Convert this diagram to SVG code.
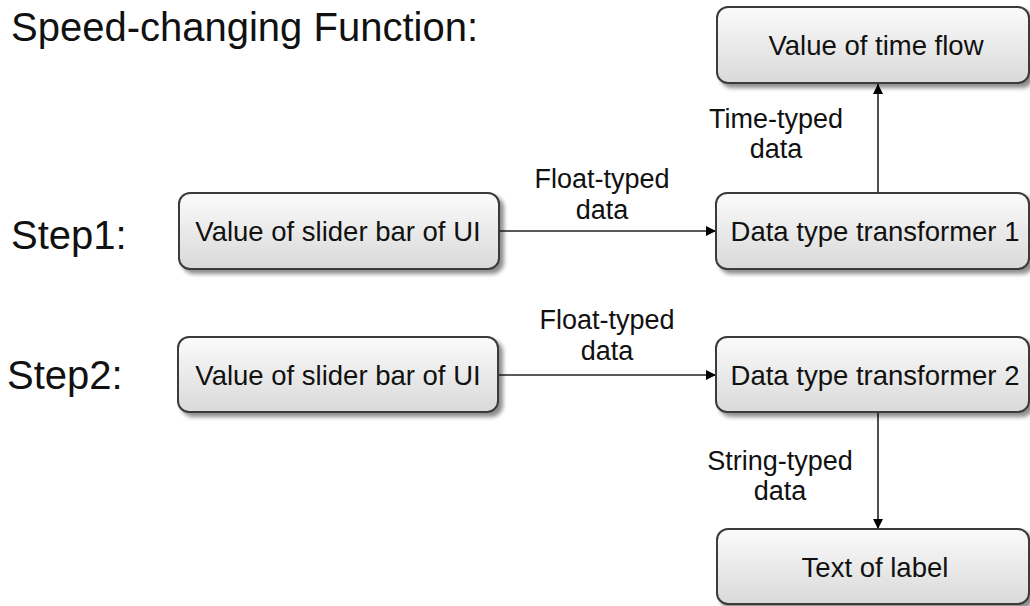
<svg xmlns="http://www.w3.org/2000/svg" width="1030" height="606" viewBox="0 0 1030 606">
  <defs>
    <linearGradient id="boxfill" x1="0" y1="0" x2="0" y2="1">
      <stop offset="0" stop-color="#fbfbfb"/>
      <stop offset="1" stop-color="#d9d9d9"/>
    </linearGradient>
    <filter id="shadow" x="-5%" y="-10%" width="115%" height="130%">
      <feGaussianBlur in="SourceAlpha" stdDeviation="2"/>
      <feOffset dx="4" dy="4" result="b"/>
      <feComponentTransfer><feFuncA type="linear" slope="0.45"/></feComponentTransfer>
      <feMerge><feMergeNode/><feMergeNode in="SourceGraphic"/></feMerge>
    </filter>
    <marker id="arrow" viewBox="0 0 10 10" refX="10" refY="5" markerWidth="10" markerHeight="10" markerUnits="userSpaceOnUse" orient="auto">
      <path d="M0,0 L10,5 L0,10 Z" fill="#000"/>
    </marker>
  </defs>
  <style>
    .box { fill: url(#boxfill); stroke: #3a3a3a; stroke-width: 2; filter: url(#shadow); }
    .btxt { font-family: "Liberation Sans", Arial, sans-serif; font-size: 27.5px; fill: #111; text-anchor: middle; }
    .lbl { font-family: "Liberation Sans", Arial, sans-serif; font-size: 27px; fill: #111; text-anchor: middle; }
    .big { font-family: "Liberation Sans", Arial, sans-serif; font-size: 40px; fill: #111; }
    .conn { stroke: #222; stroke-width: 1.6; fill: none; marker-end: url(#arrow); }
  </style>

  <text class="big" x="11" y="41">Speed-changing Function:</text>
  <text class="big" x="11" y="249">Step1:</text>
  <text class="big" x="7" y="389">Step2:</text>

  <g id="connectors">
    <line class="conn" x1="499" y1="231" x2="716" y2="231"/>
    <line class="conn" x1="878" y1="193" x2="878" y2="84"/>
    <line class="conn" x1="499" y1="375" x2="716" y2="375"/>
    <line class="conn" x1="878" y1="412" x2="878" y2="529"/>
    <text class="lbl" x="602" y="188">Float-typed</text>
    <text class="lbl" x="602" y="219">data</text>
    <text class="lbl" x="607" y="329">Float-typed</text>
    <text class="lbl" x="607" y="360">data</text>
    <text class="lbl" x="776" y="128">Time-typed</text>
    <text class="lbl" x="776" y="158">data</text>
    <text class="lbl" x="780" y="470">String-typed</text>
    <text class="lbl" x="780" y="500">data</text>
  </g>

  <g id="time-flow">
    <rect class="box" x="717" y="7" width="312" height="76" rx="11"/>
    <text class="btxt" x="876" y="55">Value of time flow</text>
  </g>
  <g id="slider1">
    <rect class="box" x="179" y="193" width="320" height="76" rx="11"/>
    <text class="btxt" x="338" y="241">Value of slider bar of UI</text>
  </g>
  <g id="transformer1">
    <rect class="box" x="716" y="193" width="313" height="76" rx="11"/>
    <text class="btxt" x="875" y="241">Data type transformer 1</text>
  </g>
  <g id="slider2">
    <rect class="box" x="178" y="337" width="320" height="75" rx="11"/>
    <text class="btxt" x="338" y="385">Value of slider bar of UI</text>
  </g>
  <g id="transformer2">
    <rect class="box" x="716" y="337" width="313" height="75" rx="11"/>
    <text class="btxt" x="875" y="385">Data type transformer 2</text>
  </g>
  <g id="text-label">
    <rect class="box" x="717" y="529" width="312" height="75" rx="11"/>
    <text class="btxt" x="875" y="577">Text of label</text>
  </g>
</svg>
